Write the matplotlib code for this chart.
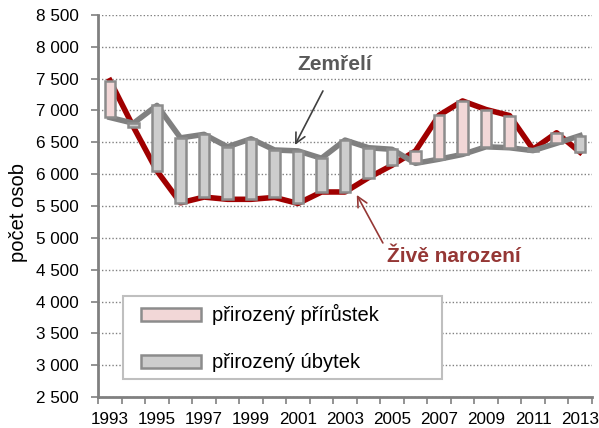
import matplotlib
matplotlib.use("Agg")
import matplotlib.pyplot as plt
from matplotlib.ticker import FuncFormatter, FixedLocator
from matplotlib.patches import Patch, Rectangle
import numpy as np

plt.rcParams['font.family'] = ['Liberation Sans', 'DejaVu Sans']

years = list(range(1993, 2014))
births = [7470, 6740, 6050, 5550, 5640, 5605, 5605, 5635, 5540, 5720, 5720,
          5945, 6140, 6365, 6925, 7150, 7015, 6920, 6390, 6650, 6345]
deaths = [6890, 6800, 7080, 6570, 6625, 6430, 6555, 6380, 6365, 6250, 6535,
          6415, 6390, 6170, 6235, 6310, 6430, 6415, 6370, 6485, 6605]
xtick_labels = [str(y) for y in years[::2]]
label_births = "Živě narození"
label_deaths = "Zemřelí"
legend_labels = ["přirozený přírůstek", "přirozený úbytek"]
ylabel = "počet osob"

RED = "#A00000"
GRAY_LINE = "#808080"
PINK = "#F2D7D7"
GRAYBAR = "#CDCDCD"
EDGE = "#8C8C8C"

fig = plt.figure(figsize=(5.99, 4.28), dpi=100)
ax = fig.add_axes([0.164, 0.0724, 0.824, 0.8926])

ax.plot(years, births, color=RED, lw=4, solid_joinstyle='round', zorder=2)
ax.plot(years, deaths, color=GRAY_LINE, lw=4, solid_joinstyle='round', zorder=2)

b = np.array(births)
d = np.array(deaths)
low = np.minimum(b, d)
height = np.abs(b - d)
colors = [PINK if bi > di else GRAYBAR for bi, di in zip(b, d)]
ax.bar(years, height, bottom=low, width=0.45, color=colors,
       edgecolor=EDGE, linewidth=1.8, zorder=3)

ax.set_xlim(1992.5, 2013.5)
ax.set_ylim(2500, 8500)
ax.set_yticks(np.arange(2500, 8501, 500))
ax.yaxis.set_major_formatter(FuncFormatter(lambda v, p: f"{int(v):,}".replace(",", " ")))
ax.set_xticks(years[::2])
ax.set_xticklabels(xtick_labels)
ax.xaxis.set_minor_locator(FixedLocator(np.arange(1992.5, 2014, 1)))
ax.tick_params(axis='x', which='major', length=0, pad=11, labelsize=12.3)
ax.tick_params(axis='x', which='minor', length=5, width=1.2, color=GRAY_LINE)
ax.tick_params(axis='y', length=5, width=1.2, color=GRAY_LINE, labelsize=12.3, pad=9)

ax.grid(axis='y', linestyle=(0, (1, 1.5)), color="#808080", lw=1, zorder=0)
ax.set_axisbelow(True)
for s in ['top', 'right']:
    ax.spines[s].set_visible(False)
for s in ['left', 'bottom']:
    ax.spines[s].set_color(GRAY_LINE)
    ax.spines[s].set_linewidth(2)

ax.set_ylabel(ylabel, fontsize=14.5)
ax.yaxis.set_label_coords(-0.1425, 0.484)

# annotations
ax.text(2002.57, 7715, label_deaths, fontsize=15, fontweight='bold',
        color="#595959", ha='center', va='center')
ax.annotate('', xy=(2000.87, 6459), xytext=(2002.06, 7307),
            arrowprops=dict(arrowstyle='->', color="#404040", lw=1.2,
                            shrinkA=0, shrinkB=0, mutation_scale=18))
ax.text(2007.64, 4700, label_births, fontsize=15, fontweight='bold',
        color="#953735", ha='center', va='center')
ax.annotate('', xy=(2003.5, 5674), xytext=(2004.61, 4920),
            arrowprops=dict(arrowstyle='->', color="#953735", lw=1.2,
                            shrinkA=0, shrinkB=0, mutation_scale=18))

# legend
handles = [Patch(facecolor=PINK, edgecolor=EDGE, linewidth=1.8),
           Patch(facecolor=GRAYBAR, edgecolor=EDGE, linewidth=1.8)]
leg = ax.legend(handles, legend_labels, loc='upper left',
                bbox_to_anchor=(0.0865, 0.243),
                fontsize=14.5, handlelength=3.0, handleheight=0.6,
                labelspacing=1.39, borderpad=0, handletextpad=0.55,
                frameon=False, borderaxespad=0)
leg.set_zorder(6)
ax.add_patch(Rectangle((0.050, 0.047), 0.647, 0.217, transform=ax.transAxes,
                       facecolor='white', edgecolor="#BFBFBF", lw=1.5, zorder=5))

fig.savefig("out.png", dpi=100)
